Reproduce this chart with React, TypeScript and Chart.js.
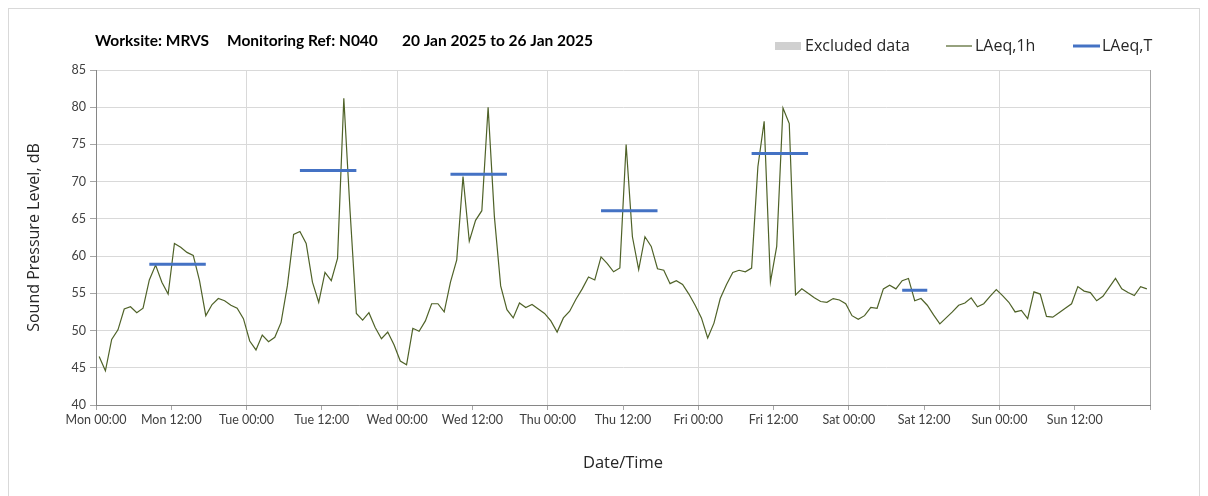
import React, { useEffect, useRef } from 'react';
import { Chart, registerables } from 'chart.js';

Chart.register(...registerables);

const DAY_NAMES = ['Mon', 'Tue', 'Wed', 'Thu', 'Fri', 'Sat', 'Sun', 'Mon'];

// Hourly LAeq,1h values, Mon 00:00 .. Sun 23:00
const LAEQ_1H = [
  46.5, 44.6, 48.8, 50.1, 52.9, 53.2, 52.4, 53.0, 56.8, 58.8, 56.5, 54.9,
  61.7, 61.2, 60.5, 60.1, 56.7, 52.0, 53.5, 54.3, 54.0, 53.4, 53.0, 51.6,
  48.6, 47.4, 49.4, 48.5, 49.1, 51.1, 56.0, 62.9, 63.3, 61.7, 56.5, 53.8,
  57.8, 56.7, 59.7, 81.2, 66.0, 52.3, 51.4, 52.4, 50.4, 48.9, 49.8, 48.1,
  45.9, 45.4, 50.3, 49.9, 51.3, 53.6, 53.6, 52.5, 56.5, 59.5, 70.7, 62.0,
  64.8, 66.1, 80.0, 65.3, 56.0, 52.8, 51.7, 53.7, 53.1, 53.5, 52.9, 52.3,
  51.3, 49.8, 51.7, 52.6, 54.2, 55.6, 57.2, 56.8, 59.9, 59.0, 57.9, 58.4,
  75.0, 62.6, 58.2, 62.6, 61.3, 58.3, 58.1, 56.3, 56.7, 56.2, 54.9, 53.4,
  51.7, 49.0, 51.0, 54.3, 56.2, 57.8, 58.1, 57.9, 58.4, 72.0, 78.1, 56.5,
  61.3, 79.9, 77.8, 54.8, 55.6, 55.0, 54.4, 53.9, 53.8, 54.3, 54.1, 53.6,
  52.0, 51.5, 52.0, 53.1, 53.0, 55.6, 56.1, 55.6, 56.7, 57.0, 54.0, 54.3,
  53.4, 52.1, 50.9, 51.7, 52.5, 53.4, 53.7, 54.4, 53.2, 53.6, 54.6, 55.5,
  54.7, 53.8, 52.5, 52.7, 51.6, 55.2, 54.9, 51.9, 51.8, 52.4, 53.0, 53.6,
  55.9, 55.3, 55.1, 54.0, 54.6, 55.8, 57.0, 55.6, 55.1, 54.7, 55.9, 55.6,
];

// LAeq,T over working-hour periods (first and last hourly slot of each period)
const PERIOD_START_HOUR = [8, 32, 56, 80, 104, 128];
const PERIOD_END_HOUR = [17, 41, 65, 89, 113, 132];
const LAEQ_T = [58.9, 71.5, 71.0, 66.1, 73.8, 55.4];

const TITLE_PARTS = ['Worksite: MRVS', 'Monitoring Ref: N040', '20 Jan 2025 to 26 Jan 2025'];
const LEGEND_LABELS = ['Excluded data', 'LAeq,1h', 'LAeq,T'];
const Y_TITLE = 'Sound Pressure Level, dB';
const X_TITLE = 'Date/Time';

const GREEN = '#4F6228';
const BLUE = '#4472C4';
const EXCL = '#d0d0d0';

const headerPlugin = {
  id: 'headerPlugin',
  afterDraw(chart: any) {
    const ctx = chart.ctx;
    ctx.save();
    ctx.textBaseline = 'middle';
    ctx.textAlign = 'left';
    ctx.fillStyle = '#000000';
    ctx.font = 'bold 15.5px Lato';
    const titleX = [86, 218, 393];
    TITLE_PARTS.forEach((t, i) => ctx.fillText(t, titleX[i], 32));

    ctx.font = '16px "Open Sans"';
    // Excluded data
    ctx.fillStyle = EXCL;
    ctx.fillRect(766, 33, 26, 8);
    ctx.fillStyle = '#262626';
    ctx.fillText(LEGEND_LABELS[0], 796, 37);
    // LAeq,1h
    ctx.strokeStyle = GREEN;
    ctx.lineWidth = 1.2;
    ctx.beginPath();
    ctx.moveTo(937, 37);
    ctx.lineTo(963, 37);
    ctx.stroke();
    ctx.fillText(LEGEND_LABELS[1], 966, 37);
    // LAeq,T
    ctx.strokeStyle = BLUE;
    ctx.lineWidth = 3;
    ctx.beginPath();
    ctx.moveTo(1064, 37);
    ctx.lineTo(1091, 37);
    ctx.stroke();
    ctx.fillText(LEGEND_LABELS[2], 1093, 37);
    ctx.restore();
  },
};

export default function App() {
  const canvasRef = useRef<HTMLCanvasElement | null>(null);

  useEffect(() => {
    if (!canvasRef.current) return;
    const hourly = LAEQ_1H.map((v, i) => ({ x: i + 0.5, y: v }));
    const periods: any[] = [];
    LAEQ_T.forEach((v, i) => {
      periods.push({ x: PERIOD_START_HOUR[i] + 0.5, y: v });
      periods.push({ x: PERIOD_END_HOUR[i] + 0.5, y: v });
      periods.push({ x: PERIOD_END_HOUR[i] + 1, y: null });
    });

    const chart = new Chart(canvasRef.current, {
      type: 'line',
      data: {
        datasets: [
          {
            label: LEGEND_LABELS[2],
            data: periods,
            borderColor: BLUE,
            borderWidth: 3,
            pointRadius: 0,
            spanGaps: false,
            order: 0,
          },
          {
            label: LEGEND_LABELS[1],
            data: hourly,
            borderColor: GREEN,
            borderWidth: 1.2,
            pointRadius: 0,
            tension: 0,
            order: 1,
          },
        ],
      },
      options: {
        responsive: false,
        animation: false,
        devicePixelRatio: 1,
        layout: { padding: { left: 0, right: 49, top: 61, bottom: 12 } },
        plugins: {
          legend: { display: false },
          tooltip: { enabled: false },
          title: { display: false },
        },
        scales: {
          x: {
            type: 'linear',
            min: 0,
            max: 168,
            afterFit: (s: any) => {
              s.height = 80;
            },
            ticks: {
              stepSize: 12,
              autoSkip: false,
              maxRotation: 0,
              padding: 2,
              color: '#404040',
              font: { family: 'Lato', size: 12.5 },
              callback: (v: any) => {
                const n = Number(v);
                if (n >= 168) return '';
                const day = DAY_NAMES[Math.floor(n / 24)];
                const hr = n % 24 === 0 ? '00:00' : '12:00';
                return `${day} ${hr}`;
              },
            },
            grid: {
              color: (c: any) => {
                const v = c.tick ? c.tick.value : 0;
                if (v === 168) return '#a6a6a6';
                return v % 24 === 0 ? '#d9d9d9' : 'rgba(0,0,0,0)';
              },
              tickColor: '#a6a6a6',
              tickLength: 5,
              lineWidth: 1,
            },
            border: { color: '#868686', width: 1 },
            title: {
              display: true,
              text: X_TITLE,
              color: '#262626',
              font: { family: 'Open Sans', size: 16.5 },
              padding: { top: 4, bottom: 12 },
            },
          },
          y: {
            min: 40,
            max: 85,
            afterFit: (s: any) => {
              s.width = 87;
            },
            ticks: {
              stepSize: 5,
              padding: 4,
              color: '#404040',
              font: { family: 'Lato', size: 12.5 },
            },
            grid: {
              color: '#d9d9d9',
              tickColor: '#a6a6a6',
              tickLength: 6,
              lineWidth: 1,
            },
            border: { color: '#868686', width: 1 },
            title: {
              display: true,
              text: Y_TITLE,
              color: '#262626',
              font: { family: 'Open Sans', size: 16 },
              padding: { top: 16, bottom: 4 },
            },
          },
        },
      },
      plugins: [headerPlugin],
    } as any);

    return () => chart.destroy();
  }, []);

  return (
    <div style={{ width: 1190, height: 488, border: '1px solid #d9d9d9', background: '#ffffff' }}>
      <canvas ref={canvasRef} width={1190} height={488} style={{ display: 'block' }} />
    </div>
  );
}
